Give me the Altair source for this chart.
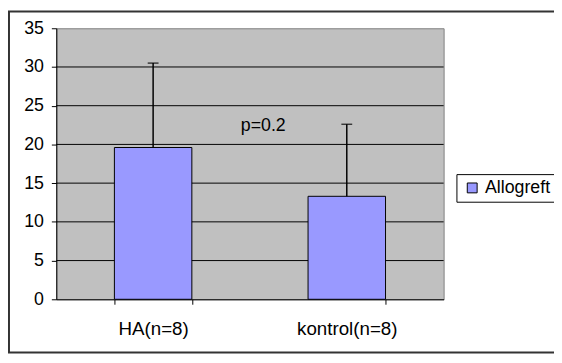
import altair as alt
import pandas as pd

categories = ["HA(n=8)", "kontrol(n=8)"]
means = [19.6, 13.3]
errors = [10.9, 9.3]
series_name = "Allogreft"
y_ticks = [0, 5, 10, 15, 20, 25, 30, 35]
grid_vals = [5, 10, 15, 20, 25, 30]
p_label = "p=0.2"
p_y = 22.4

FONT = "Liberation Sans"

df = pd.DataFrame({
    "cat": categories,
    "mean": means,
    "top": [m + e for m, e in zip(means, errors)],
    "series": [series_name] * len(categories),
})
grid_df = pd.DataFrame({"g": grid_vals})
p_df = pd.DataFrame({"t": [p_label], "y": [p_y]})

xscale = alt.Scale(domain=categories, paddingInner=0.6, paddingOuter=0.3)
yscale = alt.Scale(domain=[0, 35], nice=False, zero=True)

x_axis = alt.Axis(
    title=None, labelAngle=0, tickBand="extent", tickSize=5, tickColor="black",
    domainColor="black", labelFont=FONT, labelFontSize=19, labelColor="black",
    labelPadding=16, grid=False)
y_axis = alt.Axis(title=None, values=y_ticks, tickSize=5, tickColor="black",
                  domainColor="black", labelFont=FONT, labelFontSize=18,
                  labelColor="black", labelPadding=8, grid=False,
                  labelOverlap=False)

grid = alt.Chart(grid_df).mark_rule(color="black", strokeWidth=1).encode(
    y=alt.Y("g:Q", scale=yscale, axis=y_axis)
)

bars = alt.Chart(df).mark_bar(stroke="black", strokeWidth=1).encode(
    x=alt.X("cat:N", scale=xscale, sort=categories, axis=x_axis),
    y=alt.Y("mean:Q", scale=yscale, axis=y_axis),
    color=alt.Color("series:N", scale=alt.Scale(range=["#9999FF"]), legend=alt.Legend(
        title=None, orient="none", legendX=406, legendY=148,
        strokeColor="black", fillColor="white", padding=5,
        symbolType="square", symbolSize=100, symbolStrokeColor="black",
        symbolStrokeWidth=1, labelFont=FONT, labelFontSize=18, labelColor="black",
        symbolOffset=2)),
)

err = alt.Chart(df).mark_rule(color="black", strokeWidth=1.5).encode(
    x=alt.X("cat:N", scale=xscale, sort=categories, axis=x_axis),
    y=alt.Y("mean:Q", scale=yscale, axis=y_axis),
    y2="top:Q",
)
caps = alt.Chart(df).mark_tick(color="black", size=11, thickness=1.5).encode(
    x=alt.X("cat:N", scale=xscale, sort=categories, axis=x_axis),
    y=alt.Y("top:Q", scale=yscale, axis=y_axis),
)

ptext = alt.Chart(p_df).mark_text(font=FONT, fontSize=18, color="black",
                                   align="center", baseline="middle").encode(
    x=alt.value(210),
    y=alt.Y("y:Q", scale=yscale, axis=y_axis),
    text="t:N",
)

frame = alt.Chart(p_df).mark_rect(fill=None, stroke="#333333", strokeWidth=2).encode(
    x=alt.value(-48), x2=alt.value(600), y=alt.value(-17), y2=alt.value(329)
)

chart = alt.layer(grid, bars, err, caps, ptext, frame).properties(
    width=393, height=275,
    autosize=alt.AutoSizeParams(type="none"),
    padding={"left": 49, "top": 18, "right": 112, "bottom": 56},
).configure(
    background="white",
    view=alt.ViewConfig(fill="#C0C0C0", stroke="#808080", strokeWidth=1),
)

chart.save("out.html", embed_options={"renderer": "svg", "actions": False})
